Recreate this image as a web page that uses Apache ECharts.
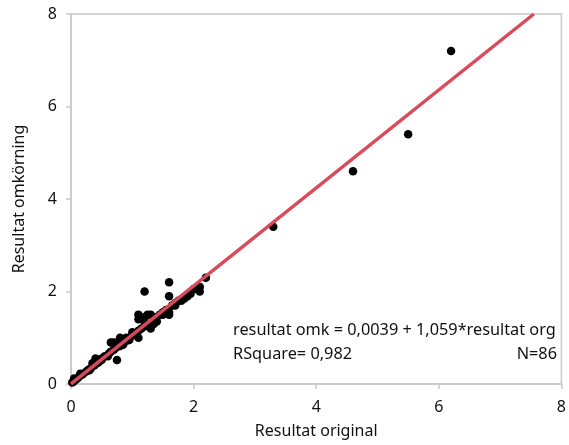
<!DOCTYPE html>
<html>
<head>
<meta charset="utf-8">
<script src="https://cdn.jsdelivr.net/npm/echarts@6/dist/echarts.min.js"></script>
<style>html,body{margin:0;padding:0;background:#fff}#c{width:569px;height:445px}</style>
</head>
<body>
<div id="c"></div>
<script>
// Observed values (Resultat original, Resultat omkörning)
const resultatOriginal = [
  6.2, 5.5, 4.6, 3.3, 2.2, 2.1, 2.1, 1.9, 1.8, 1.7,
  1.6, 1.6, 1.6, 1.6, 1.5, 1.2, 1.3, 1.25, 1.1, 1.1,
  1.2, 1.3, 1.2, 1.3, 1.0, 1.1, 0.9, 0.8, 0.7, 0.8,
  0.65, 0.75, 0.4, 0.35, 0.15, 0.05, 0.02, 0.04, 0.08, 0.1,
  0.12, 0.18, 0.2, 0.25, 0.28, 0.3, 0.32, 0.38, 0.42, 0.45,
  0.5, 0.5, 0.55, 0.6, 0.62, 0.65, 0.7, 0.72, 0.75, 0.78,
  0.8, 0.85, 0.9, 0.95, 1.0, 1.05, 1.1, 1.15, 1.2, 1.25,
  1.4, 1.45, 1.5, 1.55, 1.65, 1.7, 1.75, 1.85, 1.95, 2.0,
  1.35, 1.4, 0.85, 0.95, 0.6, 0.3
];
const resultatOmkorning = [
  7.2, 5.4, 4.6, 3.4, 2.3, 2.1, 2.0, 1.9, 1.8, 1.7,
  2.2, 1.9, 1.55, 1.5, 1.5, 2.0, 1.5, 1.5, 1.5, 1.4,
  1.35, 1.2, 1.45, 1.3, 1.12, 1.0, 1.0, 1.0, 0.9, 0.92,
  0.9, 0.52, 0.55, 0.45, 0.22, 0.12, 0.03, 0.05, 0.1, 0.12,
  0.14, 0.2, 0.22, 0.27, 0.3, 0.32, 0.33, 0.4, 0.45, 0.47,
  0.52, 0.55, 0.6, 0.62, 0.66, 0.7, 0.74, 0.78, 0.8, 0.85,
  0.82, 0.88, 0.93, 0.98, 1.05, 1.1, 1.15, 1.2, 1.25, 1.3,
  1.45, 1.5, 1.55, 1.6, 1.7, 1.75, 1.8, 1.85, 1.95, 2.05,
  1.3, 1.35, 0.85, 0.95, 0.6, 0.3
];
// Fit: resultat omk = 0,0039 + 1,059*resultat org
const fitIntercept = [0.0039];
const fitSlope = [1.059];
const xTicks = ["0", "2", "4", "6", "8"];
const yTicks = ["0", "2", "4", "6", "8"];

const pts = resultatOriginal.map((x, i) => [x, resultatOmkorning[i]]);
const a = fitIntercept[0], b = fitSlope[0];
const xEnd = (8 - a) / b;
const fitLine = [[0, a], [xEnd, 8]];

const FONT = 'Noto Sans';
const TXT = '#111';
const FS = 16;
const chart = echarts.init(document.getElementById('c'), null, {renderer: 'canvas'});
chart.setOption({
  animation: false,
  backgroundColor: '#fff',
  grid: {left: 71, right: 3, top: 14, bottom: 61, show: true, borderColor: '#c8c8c8', borderWidth: 1.5},
  xAxis: {
    type: 'value', min: 0, max: 8, interval: 2,
    name: 'Resultat original', nameLocation: 'middle', nameGap: 39,
    nameTextStyle: {fontFamily: FONT, fontSize: FS, color: TXT},
    axisLine: {show: true, lineStyle: {color: '#c8c8c8', width: 1.5}},
    axisTick: {show: true, length: 5, lineStyle: {color: '#c8c8c8', width: 1.5}},
    axisLabel: {fontFamily: FONT, fontSize: FS, color: TXT, margin: 15,
      formatter: v => xTicks[Math.round(v / 2)]},
    splitLine: {show: false}
  },
  yAxis: {
    type: 'value', min: 0, max: 8, interval: 2,
    name: 'Resultat omkörning', nameLocation: 'middle', nameGap: 44,
    nameTextStyle: {fontFamily: FONT, fontSize: FS, color: TXT},
    axisLine: {show: true, lineStyle: {color: '#c8c8c8', width: 1.5}},
    axisTick: {show: true, length: 5, lineStyle: {color: '#c8c8c8', width: 1.5}},
    axisLabel: {fontFamily: FONT, fontSize: FS, color: TXT, margin: 14,
      formatter: v => yTicks[Math.round(v / 2)]},
    splitLine: {show: false}
  },
  series: [
    {type: 'scatter', data: pts, symbolSize: 8.5, itemStyle: {color: '#000', opacity: 1}, z: 2},
    {type: 'line', data: fitLine, symbol: 'none', lineStyle: {color: '#d84a5c', width: 3.5}, z: 3}
  ],
  graphic: [
    {type: 'text', left: 233, top: 322, style: {text: 'resultat omk = 0,0039 + 1,059*resultat org', font: '16.3px "Noto Sans"', fill: TXT}},
    {type: 'text', left: 233, top: 346, style: {text: 'RSquare= 0,982', font: '16.3px "Noto Sans"', fill: TXT}},
    {type: 'text', right: 12, top: 346, style: {text: 'N=86', font: '16.3px "Noto Sans"', fill: TXT}}
  ]
});
</script>
</body>
</html>
